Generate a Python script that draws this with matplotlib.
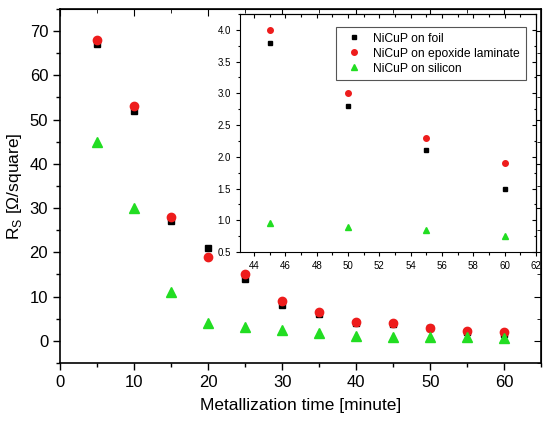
import numpy as np
from matplotlib import pyplot as plt
from matplotlib.ticker import MultipleLocator

plt.rcParams['font.family'] = ['Liberation Sans', 'DejaVu Sans']

# metallization time [minute]
time = [5, 10, 15, 20, 25, 30, 35, 40, 45, 50, 55, 60]
foil = [67, 52, 27, 21, 14, 8, 6, 4, 3.8, 2.8, 2.1, 1.5]
epoxide = [68, 53, 28, 19, 15, 9, 6.5, 4.3, 4.0, 3.0, 2.3, 1.9]
silicon = [45, 30, 11, 4, 3.2, 2.5, 1.8, 1.2, 0.95, 0.9, 0.85, 0.75]

# inset: last four points
time_in = time[-4:]
foil_in = foil[-4:]
epoxide_in = epoxide[-4:]
silicon_in = silicon[-4:]

red = '#ee1c1c'
green = '#22dd22'

fig = plt.figure(figsize=(5.5, 4.25), dpi=100)
ax = fig.add_axes([0.109, 0.146, 0.875, 0.833])

ax.plot(time, foil, 's', color='black', ms=5)
ax.plot(time, epoxide, 'o', color=red, ms=6)
ax.plot(time, silicon, '^', color=green, ms=7)

ax.set_xlim(0, 65)
ax.set_ylim(-5, 75)
ax.xaxis.set_major_locator(MultipleLocator(10))
ax.xaxis.set_minor_locator(MultipleLocator(5))
ax.yaxis.set_major_locator(MultipleLocator(10))
ax.yaxis.set_minor_locator(MultipleLocator(5))
ax.set_yticks([0, 10, 20, 30, 40, 50, 60, 70])
ax.tick_params(which='both', direction='out', labelsize=12, width=1)
ax.tick_params(which='major', length=5)
ax.tick_params(which='minor', length=3)
for s in ax.spines.values():
    s.set_linewidth(1.2)

# mirrored ticks pointing inward on top/right
top = ax.secondary_xaxis('top')
top.xaxis.set_major_locator(MultipleLocator(10))
top.xaxis.set_minor_locator(MultipleLocator(5))
top.tick_params(which='both', direction='in', labeltop=False)
top.tick_params(which='major', length=5)
top.tick_params(which='minor', length=3)
right = ax.secondary_yaxis('right')
right.yaxis.set_major_locator(MultipleLocator(10))
right.yaxis.set_minor_locator(MultipleLocator(5))
right.tick_params(which='both', direction='in', labelright=False)
right.tick_params(which='major', length=5)
right.tick_params(which='minor', length=3)

ax.set_xlabel('Metallization time [minute]', fontsize=12.5, labelpad=6)
ax.set_ylabel('R$_\\mathregular{S}$ [\u03a9/square]', fontsize=12.5, labelpad=4)

# inset
ins = fig.add_axes([240/550, 1-252/425, 296/550, 238/425])
ins.plot(time_in, foil_in, 's', color='black', ms=3.5, label='NiCuP on foil')
ins.plot(time_in, epoxide_in, 'o', color=red, ms=4, label='NiCuP on epoxide laminate')
ins.plot(time_in, silicon_in, '^', color=green, ms=4, label='NiCuP on silicon')
ins.set_xlim(43.1, 62)
ins.set_ylim(0.5, 4.25)
ins.xaxis.set_major_locator(MultipleLocator(2))
ins.xaxis.set_minor_locator(MultipleLocator(1))
ins.yaxis.set_major_locator(MultipleLocator(0.5))
ins.yaxis.set_minor_locator(MultipleLocator(0.25))
ins.yaxis.set_major_formatter('{x:.1f}')
ins.tick_params(which='both', direction='out', labelsize=7, width=0.8)
ins.tick_params(which='major', length=3)
ins.tick_params(which='minor', length=1.8)
itop = ins.secondary_xaxis('top')
itop.xaxis.set_major_locator(MultipleLocator(2))
itop.xaxis.set_minor_locator(MultipleLocator(1))
itop.tick_params(which='both', direction='in', labeltop=False, width=0.8)
itop.tick_params(which='major', length=3)
itop.tick_params(which='minor', length=1.8)
iright = ins.secondary_yaxis('right')
iright.yaxis.set_major_locator(MultipleLocator(0.5))
iright.yaxis.set_minor_locator(MultipleLocator(0.25))
iright.tick_params(which='both', direction='in', labelright=False, width=0.8)
iright.tick_params(which='major', length=3)
iright.tick_params(which='minor', length=1.8)

leg = ins.legend(loc='upper right', fontsize=8.7, fancybox=False, edgecolor='#555555',
                 framealpha=1, handletextpad=0.6, borderpad=0.45, labelspacing=0.25,
                 bbox_to_anchor=(0.985, 0.97))
leg.get_frame().set_linewidth(0.8)

fig.savefig('out.png', dpi=100)
